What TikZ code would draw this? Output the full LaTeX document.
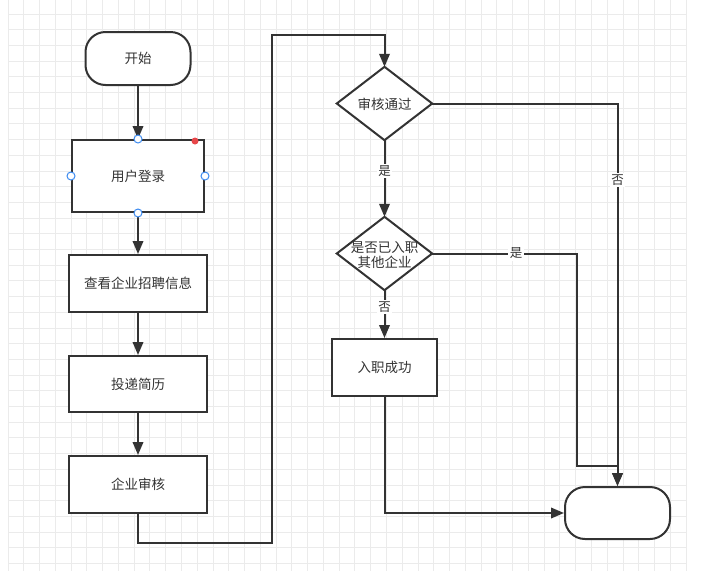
\documentclass[tikz,border=0pt]{standalone}
\usepackage{fontspec}
\newfontfamily\cjk{Noto Sans CJK SC}
\usetikzlibrary{arrows.meta}
\definecolor{ln}{HTML}{333333}
\definecolor{gridc}{HTML}{EBEBEB}
\definecolor{hbl}{HTML}{3D8BF0}
\definecolor{hred}{HTML}{E8474A}
\begin{document}
\begin{tikzpicture}[x=1pt,y=-1pt,
  box/.style={draw=ln, line width=2pt, fill=white, text=ln, inner sep=0pt, align=center,
    font=\cjk\fontsize{13.5}{15}\selectfont},
  term/.style={box, rounded corners=20pt},
  shp/.style={inner sep=0pt, minimum width=95pt, minimum height=73pt},
  dtxt/.style={text=ln, inner sep=0pt, align=center, font=\cjk\fontsize{13.5}{15}\selectfont},
  arr/.style={draw=ln, line width=2pt, -{Triangle[length=13pt,width=10.5pt]}},
  lbl/.style={fill=white, text=ln, inner sep=1.5pt, font=\cjk\fontsize{12.5}{14}\selectfont},
  hdl/.style={circle, draw=hbl, fill=white, line width=1pt, minimum size=8pt, inner sep=0pt}
]
\useasboundingbox (0,0) rectangle (713,571);
\fill[white] (0,0) rectangle (713,571);
% grid
\foreach \i in {0,...,43} \draw[gridc, line width=1pt] ({8+\i*15.77},0) -- ({8+\i*15.77},571);
\foreach \j in {0,...,35} \draw[gridc, line width=1pt] (8,{14+\j*15.7}) -- (687,{14+\j*15.7});

% nodes
\node[term, minimum width=105pt, minimum height=53pt] (start) at (138,58.5) {开始};
\node[box, minimum width=132pt, minimum height=72pt] (login) at (138,176) {用户登录};
\node[box, minimum width=138pt, minimum height=57pt] (view) at (138,283.5) {查看企业招聘信息};
\node[box, minimum width=138pt, minimum height=56pt] (send) at (138,384) {投递简历};
\node[box, minimum width=138pt, minimum height=57pt] (audit) at (138,484.5) {企业审核};

\node[shp] (d1) at (384.5,103.5) {};
\draw[ln, line width=2pt, fill=white] (d1.north) -- (d1.east) -- (d1.south) -- (d1.west) -- cycle;
\node[dtxt] (d1t) at (384.5,104.5) {审核通过};

\node[shp] (d2) at (384.5,253.5) {};
\draw[ln, line width=2pt, fill=white] (d2.north) -- (d2.east) -- (d2.south) -- (d2.west) -- cycle;
\node[dtxt] (d2t) at (384.5,254.5) {是否已入职\\其他企业};

\node[box, minimum width=105pt, minimum height=57pt] (ok) at (384.5,367.5) {入职成功};
\node[term, minimum width=105pt, minimum height=52pt] (end) at (617.5,513) {};

\coordinate (c1) at (272,543);
\coordinate (c2) at (384.5,35);
\coordinate (c3) at (577,466);

% connectors
\draw[arr] (start.south) -- (login.north);
\draw[arr] (login.south) -- (view.north);
\draw[arr] (view.south) -- (send.north);
\draw[arr] (send.south) -- (audit.north);
\draw[arr] (audit.south) |- (c1) |- (c2) -- (d1.north);
\draw[arr] (d1.south) -- node[lbl, pos=0.4] (l1) {是} (d2.north);
\draw[arr] (d2.south) -- node[lbl, pos=0.35] (l2) {否} (ok.north);
\draw[arr] (d1.east) -| node[lbl, pos=0.6] (l3) {否} (end.north);
\draw[arr] (d2.east) -| node[lbl, pos=0.29] (l4) {是} (c3) -| (end.north);
\draw[arr] (ok.south) |- (end.west);

% selection handles
\node[hdl] (h1) at (login.north) {};
\node[hdl] (h2) at (login.west) {};
\node[hdl] (h3) at (login.east) {};
\node[hdl] (h4) at (login.south) {};
\node[circle, fill=hred, minimum size=7pt, inner sep=0pt] (hr) at (195,141) {};
\end{tikzpicture}
\end{document}
